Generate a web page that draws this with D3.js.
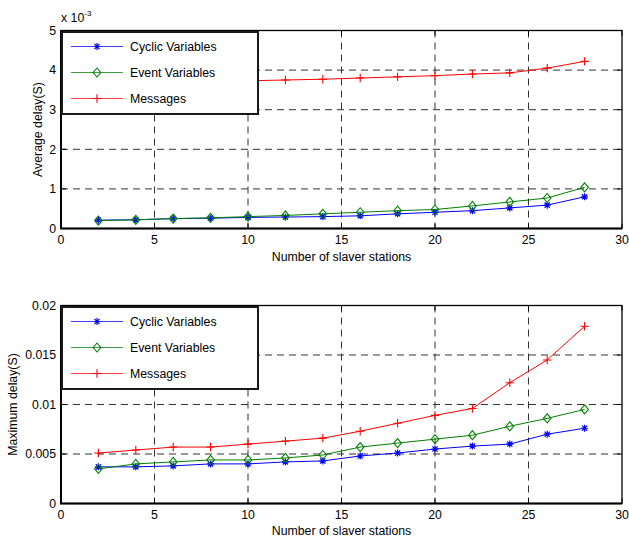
<!DOCTYPE html>
<html><head><meta charset="utf-8">
<script src="https://cdn.jsdelivr.net/npm/d3@7"></script>
<style>body{margin:0;background:#fff}svg text{font-family:"Liberation Sans",Arial,sans-serif;fill:#000}</style>
</head><body><svg id="c" width="629" height="540"></svg>
<script>
const stations = [2,4,6,8,10,12,14,16,18,20,22,24,26,28];
// Average delay (x 10^-3 s)
const avgCyclic = [0.21,0.22,0.25,0.26,0.28,0.29,0.30,0.32,0.37,0.41,0.45,0.52,0.59,0.80];
const avgEvent  = [0.20,0.22,0.25,0.27,0.30,0.33,0.37,0.41,0.45,0.48,0.57,0.67,0.77,1.04];
const avgMsg    = [3.62,3.65,3.68,3.70,3.73,3.75,3.77,3.80,3.83,3.86,3.90,3.93,4.05,4.22];
// Maximum delay (s)
const maxCyclic = [0.0037,0.0037,0.0038,0.0040,0.0040,0.0042,0.0043,0.0048,0.0051,0.0055,0.0058,0.0060,0.0070,0.0076];
const maxEvent  = [0.0035,0.0040,0.0042,0.0044,0.0044,0.0046,0.0049,0.0057,0.0061,0.0065,0.0069,0.0078,0.0086,0.0095];
const maxMsg    = [0.0051,0.0054,0.0057,0.0057,0.0060,0.0063,0.0066,0.0073,0.0081,0.0089,0.0096,0.0122,0.0145,0.0179];
const xTicks = [0,5,10,15,20,25,30];
const yTicksAvg = [0,1,2,3,4,5];
const yTicksMax = [0,0.005,0.01,0.015,0.02];
const yTickLabelsMax = ["0","0.005","0.01","0.015","0.02"];
const seriesNames = ["Cyclic Variables","Event Variables","Messages"];
const seriesColors = ["#0000ff","#008000","#ff0000"];
const seriesMarkers = ["star","diamond","plus"];

const FS = 12.3;
const svg = d3.select("#c");

function marker(g, type, color, x, y){
  if(type==="star"){
    const s=3.5, d=2.6;
    g.append("path").attr("d",`M${x-s},${y}L${x+s},${y}M${x},${y-s}L${x},${y+s}M${x-d},${y-d}L${x+d},${y+d}M${x-d},${y+d}L${x+d},${y-d}`)
      .attr("stroke",color).attr("stroke-width",1.2).attr("fill","none");
  } else if(type==="diamond"){
    g.append("path").attr("d",`M${x},${y-4.5}L${x+3.8},${y}L${x},${y+4.5}L${x-3.8},${y}Z`)
      .attr("stroke",color).attr("stroke-width",1.1).attr("fill","none");
  } else {
    const s=4.2;
    g.append("path").attr("d",`M${x-s},${y}L${x+s},${y}M${x},${y-s}L${x},${y+s}`)
      .attr("stroke",color).attr("stroke-width",1.1).attr("fill","none");
  }
}

function panel(top, bottom, yDomain, yTicks, yLabels, series, ylabel, ylabelX, xlabelY, tickLabelY){
  const left=61, right=622;
  const x=d3.scaleLinear().domain([0,30]).range([left,right]);
  const y=d3.scaleLinear().domain(yDomain).range([bottom,top]);
  const g=svg.append("g");
  // grid
  xTicks.slice(1,-1).forEach(t=>g.append("line").attr("x1",x(t)).attr("x2",x(t)).attr("y1",top).attr("y2",bottom)
    .attr("stroke","#333").attr("stroke-width",1).attr("stroke-dasharray","7,5"));
  yTicks.slice(1,-1).forEach(t=>g.append("line").attr("x1",left).attr("x2",right).attr("y1",y(t)).attr("y2",y(t))
    .attr("stroke","#333").attr("stroke-width",1).attr("stroke-dasharray","7,5"));
  // series
  series.forEach((vals,i)=>{
    const line=d3.line().x((d,j)=>x(stations[j])).y(d=>y(d));
    g.append("path").attr("d",line(vals)).attr("fill","none").attr("stroke",seriesColors[i]).attr("stroke-width",1);
    vals.forEach((v,j)=>marker(g,seriesMarkers[i],seriesColors[i],x(stations[j]),y(v)));
  });
  // ticks inward
  xTicks.forEach(t=>{
    g.append("line").attr("x1",x(t)).attr("x2",x(t)).attr("y1",bottom).attr("y2",bottom-5).attr("stroke","#000");
    g.append("line").attr("x1",x(t)).attr("x2",x(t)).attr("y1",top).attr("y2",top+5).attr("stroke","#000");
    g.append("text").attr("x",x(t)).attr("y",tickLabelY).attr("text-anchor","middle").attr("font-size",FS).text(t);
  });
  yTicks.forEach((t,k)=>{
    g.append("line").attr("x1",left).attr("x2",left+5).attr("y1",y(t)).attr("y2",y(t)).attr("stroke","#000");
    g.append("line").attr("x1",right).attr("x2",right-5).attr("y1",y(t)).attr("y2",y(t)).attr("stroke","#000");
    g.append("text").attr("x",56).attr("y",y(t)+4.3).attr("text-anchor","end").attr("font-size",FS).text(yLabels[k]);
  });
  // frame
  g.append("rect").attr("x",left).attr("y",top).attr("width",right-left).attr("height",bottom-top)
    .attr("fill","none").attr("stroke","#000").attr("stroke-width",1.3);
  g.append("path").attr("d",`M${left},${top}L${left},${bottom}L${right},${bottom}`).attr("fill","none").attr("stroke","#000").attr("stroke-width",2);
  // legend
  const lg=g.append("g");
  lg.append("rect").attr("x",62).attr("y",top+1.5).attr("width",196).attr("height",82)
    .attr("fill","#fff").attr("stroke","#1a1a1a").attr("stroke-width",2);
  seriesNames.forEach((n,i)=>{
    const yy=top+16+i*26;
    lg.append("line").attr("x1",71).attr("x2",123).attr("y1",yy).attr("y2",yy).attr("stroke",seriesColors[i]).attr("stroke-width",1.2).attr("opacity",0.75);
    marker(lg,seriesMarkers[i],seriesColors[i],97,yy);
    lg.append("text").attr("x",130).attr("y",yy+4.3).attr("font-size",FS).text(n);
  });
  // labels
  svg.append("text").attr("x",(left+right)/2).attr("y",xlabelY).attr("text-anchor","middle").attr("font-size",FS).text("Number of slaver stations");
  svg.append("text").attr("transform",`translate(${ylabelX},${(top+bottom)/2}) rotate(-90)`).attr("text-anchor","middle").attr("font-size",FS).text(ylabel);
}

panel(30.5,228.5,[0,5],yTicksAvg,yTicksAvg.map(String),[avgCyclic,avgEvent,avgMsg],"Average delay(S)",42,261,244);
panel(305.5,503.5,[0,0.02],yTicksMax,yTickLabelsMax,[maxCyclic,maxEvent,maxMsg],"Maximum delay(S)",17,535,519);

// exponent label
const ex=svg.append("text").attr("x",61).attr("y",22).attr("font-size",FS);
ex.append("tspan").text("x 10");
ex.append("tspan").attr("dy",-6).attr("font-size",8).text("-3");
</script></body></html>
